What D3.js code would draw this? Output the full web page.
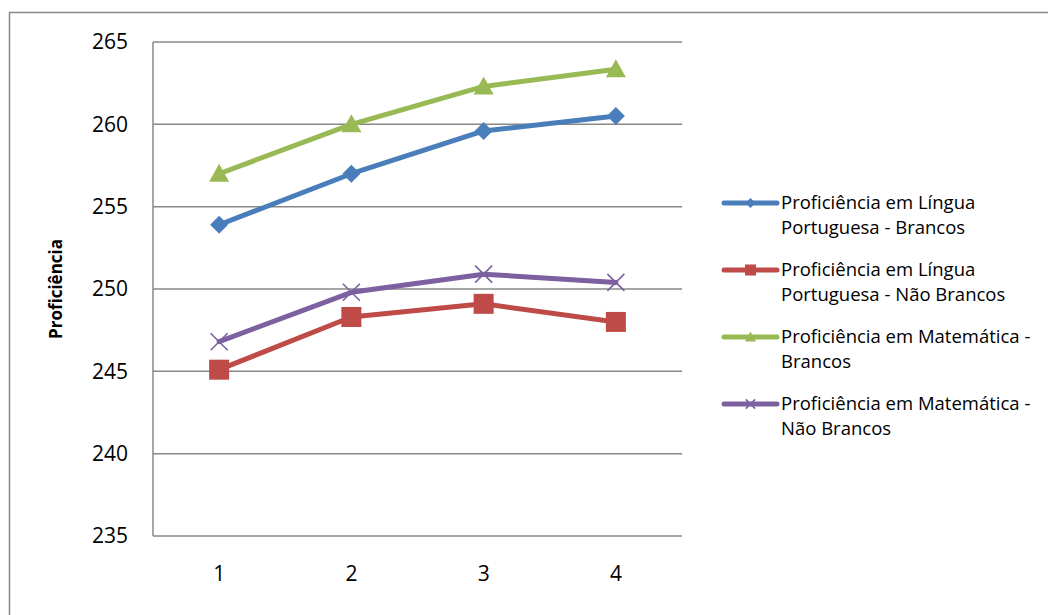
<!DOCTYPE html>
<html>
<head>
<meta charset="utf-8">
<script src="https://cdn.jsdelivr.net/npm/d3@7"></script>
<style>
  html, body { margin: 0; padding: 0; background: #fff; }
  svg { display: block; font-family: "Open Sans", "Liberation Sans", sans-serif; }
</style>
</head>
<body>
<svg id="chart" width="1048" height="615"></svg>
<script>
// Categories on the x axis
const categories = ["1", "2", "3", "4"];
// Y axis ticks
const yTicks = [235, 240, 245, 250, 255, 260, 265];

// Series
const seriesNames = [
  "Proficiência em Língua Portuguesa - Brancos",
  "Proficiência em Língua Portuguesa - Não Brancos",
  "Proficiência em Matemática - Brancos",
  "Proficiência em Matemática - Não Brancos"
];
const legendLines = [
  ["Proficiência em Língua", "Portuguesa - Brancos"],
  ["Proficiência em Língua", "Portuguesa - Não Brancos"],
  ["Proficiência em Matemática -", "Brancos"],
  ["Proficiência em Matemática -", "Não Brancos"]
];
const lpBrancos = [253.9, 257.0, 259.6, 260.5];
const lpNaoBrancos = [245.1, 248.3, 249.1, 248.0];
const matBrancos = [257.0, 260.0, 262.3, 263.35];
const matNaoBrancos = [246.8, 249.8, 250.9, 250.4];
const seriesValues = [lpBrancos, lpNaoBrancos, matBrancos, matNaoBrancos];

const colors = ["#4A7EBB", "#BE4B48", "#98B954", "#7D60A0"];
const markers = ["diamond", "square", "triangle", "cross"];

const svg = d3.select("#chart");

// outer frame
svg.append("rect")
  .attr("x", 9.5).attr("y", 12.5)
  .attr("width", 1100).attr("height", 700)
  .attr("fill", "none").attr("stroke", "#878787").attr("stroke-width", 1.5);

const plot = { left: 153, right: 682, top: 42, bottom: 536 };

const x = d3.scaleBand().domain(categories).range([plot.left, plot.right]);
const y = d3.scaleLinear().domain([235, 265]).range([plot.bottom, plot.top]);

// horizontal gridlines
svg.append("g").selectAll("line").data(yTicks).join("line")
  .attr("x1", plot.left).attr("x2", plot.right)
  .attr("y1", d => y(d)).attr("y2", d => y(d))
  .attr("stroke", "#888").attr("stroke-width", 1.5);

// y axis line
svg.append("line")
  .attr("x1", plot.left).attr("x2", plot.left)
  .attr("y1", plot.top).attr("y2", plot.bottom)
  .attr("stroke", "#888").attr("stroke-width", 1.5);

// y tick labels
const yAxis = d3.axisLeft(y).tickValues(yTicks).tickSize(0).tickPadding(25);
const yg = svg.append("g").attr("transform", `translate(${plot.left},0)`).call(yAxis);
yg.select(".domain").remove();
yg.selectAll("text").attr("font-size", 21).attr("fill", "#000")
  .attr("font-family", "'Open Sans', 'Liberation Sans', sans-serif");

// x tick labels
const xAxis = d3.axisBottom(x).tickSize(0).tickPadding(30);
const xg = svg.append("g").attr("transform", `translate(0,${plot.bottom})`).call(xAxis);
xg.select(".domain").remove();
xg.selectAll("text").attr("font-size", 21).attr("fill", "#000")
  .attr("font-family", "'Open Sans', 'Liberation Sans', sans-serif");

// y axis title
svg.append("text")
  .attr("transform", `translate(62,${(plot.top + plot.bottom) / 2}) rotate(-90)`)
  .attr("text-anchor", "middle")
  .attr("font-size", 17).attr("font-weight", "bold")
  .text("Proficiência");

// marker drawing
function drawMarker(g, type, cx, cy, color, scale) {
  const s = scale || 1;
  if (type === "diamond") {
    const r = 9 * s;
    g.append("path")
      .attr("d", `M${cx},${cy - r}L${cx + r},${cy}L${cx},${cy + r}L${cx - r},${cy}Z`)
      .attr("fill", color);
  } else if (type === "square") {
    const h = 10 * s;
    g.append("rect").attr("x", cx - h).attr("y", cy - h)
      .attr("width", 2 * h).attr("height", 2 * h).attr("fill", color);
  } else if (type === "triangle") {
    const h = 10 * s;
    g.append("path")
      .attr("d", `M${cx},${cy - h}L${cx + h},${cy + h * 0.8}L${cx - h},${cy + h * 0.8}Z`)
      .attr("fill", color);
  } else if (type === "cross") {
    const h = 8.5 * s;
    g.append("path")
      .attr("d", `M${cx - h},${cy - h}L${cx + h},${cy + h}M${cx - h},${cy + h}L${cx + h},${cy - h}`)
      .attr("stroke", color).attr("stroke-width", 1.6).attr("fill", "none");
  }
}

const line = d3.line()
  .x((d, i) => x(categories[i]) + x.bandwidth() / 2)
  .y(d => y(d));

// draw series
seriesValues.forEach((vals, si) => {
  const g = svg.append("g");
  g.append("path").datum(vals)
    .attr("d", line)
    .attr("fill", "none").attr("stroke", colors[si])
    .attr("stroke-width", 5).attr("stroke-linejoin", "round").attr("stroke-linecap", "round");
  vals.forEach((v, i) => {
    drawMarker(g, markers[si], x(categories[i]) + x.bandwidth() / 2, y(v), colors[si], 1);
  });
});

// legend
const legend = svg.append("g");
legendLines.forEach((lines, i) => {
  const ly = 203 + i * 67;
  const g = legend.append("g");
  g.append("line").attr("x1", 724).attr("x2", 777).attr("y1", ly).attr("y2", ly)
    .attr("stroke", colors[i]).attr("stroke-width", 5).attr("stroke-linecap", "round");
  drawMarker(g, markers[i], 750.5, ly, colors[i], 0.55);
  const t = g.append("text").attr("x", 781).attr("y", ly + 6)
    .attr("font-size", 18.5).attr("fill", "#000");
  lines.forEach((ln, k) => {
    t.append("tspan").attr("x", 781).attr("dy", k === 0 ? 0 : 25).text(ln);
  });
});
</script>
</body>
</html>
